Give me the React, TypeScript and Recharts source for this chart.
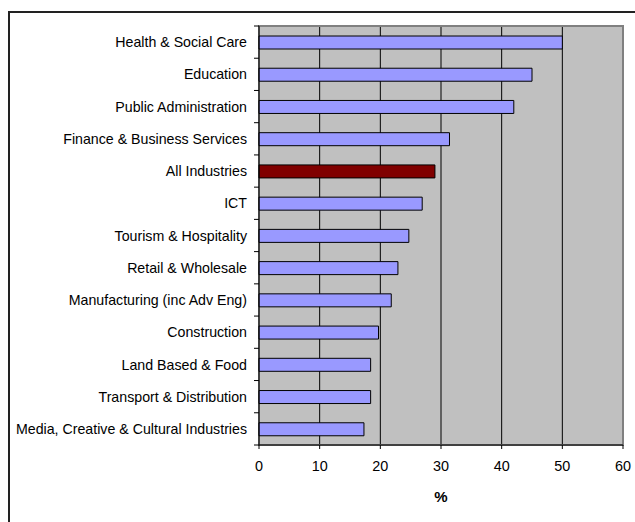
import { BarChart, Bar, XAxis, YAxis, CartesianGrid, ReferenceArea, Cell } from 'recharts';

const categories = [
  'Health & Social Care',
  'Education',
  'Public Administration',
  'Finance & Business Services',
  'All Industries',
  'ICT',
  'Tourism & Hospitality',
  'Retail & Wholesale',
  'Manufacturing (inc Adv Eng)',
  'Construction',
  'Land Based & Food',
  'Transport & Distribution',
  'Media, Creative & Cultural Industries',
];

const values = [50, 45, 42, 31.4, 29, 26.9, 24.7, 22.9, 21.8, 19.7, 18.4, 18.4, 17.3];

const xTicks = [0, 10, 20, 30, 40, 50, 60];

const highlight = 'All Industries';

const data = categories.map((name, i) => ({ name, value: values[i] }));

const FONT = '"Liberation Sans", Arial, sans-serif';
const W = 635;
const H = 522;
const MARGIN = { top: 26, right: 12, bottom: 0, left: 0 };
const Y_AXIS_W = 259;
const X_AXIS_H = 77;
const BAND = (H - MARGIN.top - X_AXIS_H) / categories.length;

const CategoryTick = (props: any) => {
  const { x, y, payload, index } = props;
  const axisX = x + 12;
  return (
    <g>
      <text
        x={x}
        y={y}
        dy="0.36em"
        textAnchor="end"
        fill="#000"
        fontSize={14.2}
        fontFamily={FONT}
      >
        {payload.value}
      </text>
      {index === 0 && (
        <line x1={axisX - 5} x2={axisX} y1={y - BAND / 2} y2={y - BAND / 2} stroke="#000" />
      )}
      <line x1={axisX - 5} x2={axisX} y1={y + BAND / 2} y2={y + BAND / 2} stroke="#000" />
    </g>
  );
};

const App = () => {
  return (
    <div style={{ position: 'relative', width: W, height: H, overflow: 'hidden', background: '#fff' }}>
      <style>{`html,body{margin:0;padding:0;overflow:hidden;}`}</style>
      <div
        style={{
          position: 'absolute',
          left: 8,
          top: 11,
          width: 700,
          height: 600,
          border: '2px solid #222',
          boxSizing: 'border-box',
        }}
      />
      <div style={{ position: 'absolute', left: 0, top: 0 }}>
        <BarChart width={W} height={H} data={data} layout="vertical" margin={MARGIN}>
          <CartesianGrid horizontal={false} vertical stroke="#000" fill="#C0C0C0" />
          <ReferenceArea x1={0} x2={60} fill="none" stroke="#808080" strokeWidth={2} ifOverflow="visible" />
          <XAxis
            type="number"
            domain={[0, 60]}
            ticks={xTicks}
            interval={0}
            height={X_AXIS_H}
            axisLine={{ stroke: '#000' }}
            tickLine={{ stroke: '#000' }}
            tickSize={4}
            tickMargin={12}
            tick={{ fill: '#000', fontSize: 14.4, fontFamily: FONT }}
            label={{
              value: '%',
              position: 'insideTop',
              offset: 46,
              fill: '#000',
              fontSize: 15,
              fontWeight: 'bold',
              fontFamily: FONT,
            }}
          />
          <YAxis
            type="category"
            dataKey="name"
            width={Y_AXIS_W}
            interval={0}
            axisLine={{ stroke: '#000' }}
            tickLine={false}
            tickSize={0}
            tickMargin={12}
            tick={<CategoryTick />}
          />
          <Bar dataKey="value" barSize={13} stroke="#000" strokeWidth={1} isAnimationActive={false}>
            {data.map((d) => (
              <Cell key={d.name} fill={d.name === highlight ? '#800000' : '#9999FF'} />
            ))}
          </Bar>
        </BarChart>
      </div>
    </div>
  );
};

export default App;
